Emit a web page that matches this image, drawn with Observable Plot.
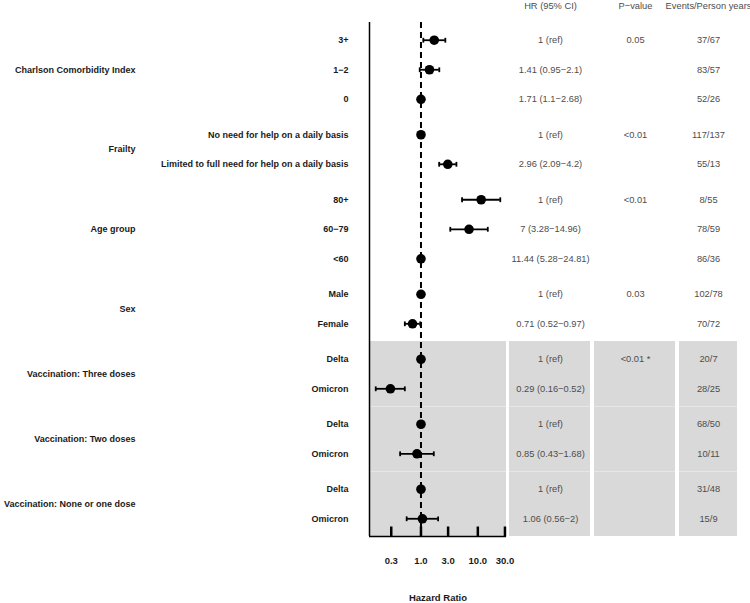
<!DOCTYPE html>
<html><head><meta charset="utf-8">
<script src="https://cdn.jsdelivr.net/npm/d3@7"></script>
<script src="https://cdn.jsdelivr.net/npm/@observablehq/plot@0.6"></script>
<style>
body{margin:0;background:#fff;}
#chart{position:relative;width:750px;height:603px;font-family:"Liberation Sans",Arial,sans-serif;}
#chart svg{position:absolute;top:0;}
</style></head><body><div id="chart"></div>
<script>
// ---------- data ----------
const groups = ["Charlson Comorbidity Index","Frailty","Age group","Sex","Vaccination: Three doses","Vaccination: Two doses","Vaccination: None or one dose"];
const groupSizes = [3,2,3,2,2,2,2];
const shadedGroups = [false,false,false,false,true,true,true];
const rowLabels = ["3+","1−2","0","No need for help on a daily basis","Limited to full need for help on a daily basis","80+","60−79","<60","Male","Female","Delta","Omicron","Delta","Omicron","Delta","Omicron"];
const hrValues = [1.71,1.41,1,1,2.96,11.44,7,1,1,0.71,1,0.29,1,0.85,1,1.06];
const lowerCI  = [1.1,0.95,1,1,2.09,5.28,3.28,1,1,0.52,1,0.16,1,0.43,1,0.56];
const upperCI  = [2.68,2.1,1,1,4.2,24.81,14.96,1,1,0.97,1,0.52,1,1.68,1,2];
const hrTexts = ["1 (ref)","1.41 (0.95−2.1)","1.71 (1.1−2.68)","1 (ref)","2.96 (2.09−4.2)","1 (ref)","7 (3.28−14.96)","11.44 (5.28−24.81)","1 (ref)","0.71 (0.52−0.97)","1 (ref)","0.29 (0.16−0.52)","1 (ref)","0.85 (0.43−1.68)","1 (ref)","1.06 (0.56−2)"];
const pTexts = ["0.05","","","<0.01","","<0.01","","","0.03","","<0.01 *","","","","",""];
const eventsTexts = ["37/67","83/57","52/26","117/137","55/13","8/55","78/59","86/36","102/78","70/72","20/7","28/25","68/50","10/11","31/48","15/9"];
const xTicks = [0.3,1,3,10,30];
const columnHeaders = ["HR (95% CI)","P−value","Events/Person years"];

// ---------- build table ----------
const rows = [], panels = [];
let cum = 0, k = 0;
groups.forEach((g, gi) => {
  const n = groupSizes[gi], top = cum;
  for (let i = 0; i < n; i++, k++) {
    rows.push({y: top + 0.6 + i, label: rowLabels[k], hr: hrValues[k], lo: lowerCI[k], hi: upperCI[k],
               hrText: hrTexts[k], p: pTexts[k], events: eventsTexts[k]});
  }
  cum += n + 0.2;
  panels.push({group: g, y1: top, y2: cum, mid: (top + cum) / 2, shaded: shadedGroups[gi]});
});
const yMax = cum;
const shaded = panels.filter(p => p.shaded);
const separators = shaded.slice(1).map(p => p.y1);
const labelAt = new Map(rows.map(r => [r.y, r.label]));
const groupAt = new Map(panels.map(p => [p.mid, p.group]));
const lmin = Math.log10(d3.min(lowerCI)), lmax = Math.log10(d3.max(upperCI));
const ext = (lmax - lmin) * 0.05;
const xDomain = [10 ** (lmin - ext), 10 ** (lmax + ext)];
const tickRows = xTicks.map(t => ({x: t, y: yMax}));

const capSymbol = {draw(ctx, size) { const r = Math.sqrt(size / Math.PI); ctx.moveTo(0, -r); ctx.lineTo(0, r); }};

const W = 750, H = 603, mTop = 22, mBottom = 67;
const font = '"Liberation Sans", Arial, sans-serif';
const chart = document.getElementById("chart");

const main = Plot.plot({
  width: W, height: H, marginLeft: 369, marginRight: 244, marginTop: mTop, marginBottom: mBottom,
  style: {fontFamily: font, background: "white", overflow: "visible"},
  x: {type: "log", domain: xDomain},
  y: {domain: [0, yMax], reverse: true, label: null},
  marks: [
    Plot.rect(shaded, {y1: "y1", y2: "y2", fill: "#d9d9d9"}),
    Plot.ruleY(separators, {stroke: "#e6e6e6", strokeWidth: 1}),
    Plot.ruleX([1], {stroke: "black", strokeWidth: 2, strokeDasharray: "6,4"}),
    Plot.ruleY(rows, {y: "y", x1: "lo", x2: "hi", stroke: "black", strokeWidth: 1.8}),
    Plot.dot(rows, {x: "lo", y: "y", symbol: capSymbol, r: 2.4, stroke: "black", strokeWidth: 1.8}),
    Plot.dot(rows, {x: "hi", y: "y", symbol: capSymbol, r: 2.4, stroke: "black", strokeWidth: 1.8}),
    Plot.dot(rows, {x: "hr", y: "y", r: 4.8, fill: "black"}),
    Plot.dot(tickRows, {x: "x", y: "y", symbol: capSymbol, r: 5, dy: -5, stroke: "black", strokeWidth: 2.5}),
    Plot.ruleX([xDomain[0]], {stroke: "black", strokeWidth: 1.5}),
    Plot.ruleY([yMax], {stroke: "black", strokeWidth: 1.5}),
    Plot.axisX({ticks: xTicks, tickFormat: d3.format(".1f"), tickSize: 0, tickPadding: 21,
      fontSize: 9.5, fontWeight: "bold", fill: "#1a1a1a",
      label: "Hazard Ratio", labelAnchor: "center", labelArrow: "none", labelOffset: 64}),
    Plot.axisY({ticks: rows.map(r => r.y), tickFormat: d => labelAt.get(d), tickSize: 0, tickPadding: 21,
      fontSize: 9, fontWeight: "bold", fill: "#1a1a1a", label: null}),
    Plot.axisY({ticks: panels.map(p => p.mid), tickFormat: d => groupAt.get(d), tickSize: 0, tickPadding: 234,
      fontSize: 9, fontWeight: "bold", fill: "#1a1a1a", label: null})
  ]
});
main.style.left = "0px";
chart.appendChild(main);

const columns = [
  {header: columnHeaders[0], key: "hrText", left: 509, width: 81},
  {header: columnHeaders[1], key: "p", left: 594, width: 81},
  {header: columnHeaders[2], key: "events", left: 679, width: 58}
];
for (const c of columns) {
  const el = Plot.plot({
    width: c.width, height: H, marginLeft: 0, marginRight: 0, marginTop: mTop, marginBottom: mBottom,
    style: {fontFamily: font, background: "transparent", overflow: "visible"},
    x: {type: "point", domain: [c.header]},
    y: {domain: [0, yMax], reverse: true, axis: null},
    marks: [
      Plot.rect(shaded, {y1: "y1", y2: "y2", fill: "#d9d9d9"}),
      Plot.ruleY(separators, {stroke: "#e6e6e6", strokeWidth: 1}),
      Plot.text(rows, {x: () => c.header, y: "y", text: c.key, fill: "#4d4d4d", fontSize: 9.3}),
      Plot.axisX({anchor: "top", tickSize: 0, tickPadding: 14, fontSize: 9.3, fill: "#4d4d4d", label: null})
    ]
  });
  el.style.left = c.left + "px";
  chart.appendChild(el);
}
</script></body></html>
